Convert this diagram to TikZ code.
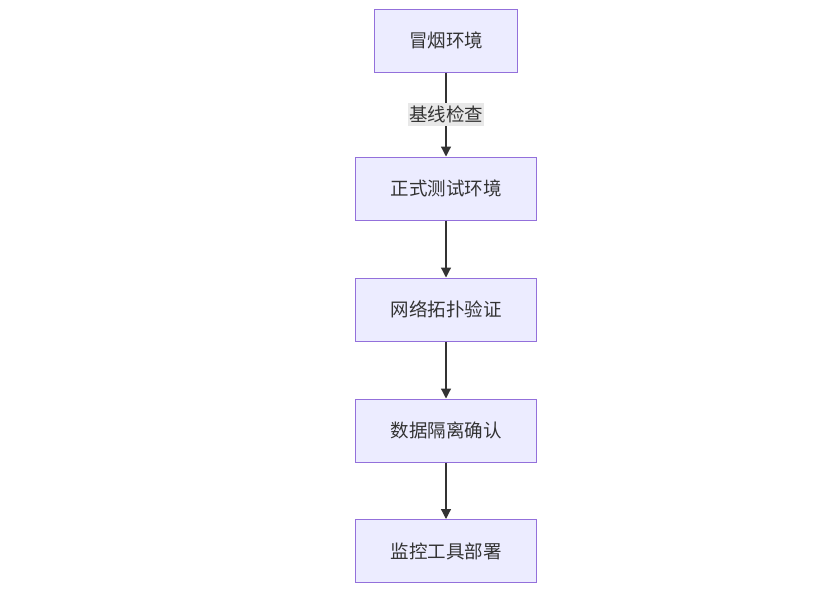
\documentclass[tikz,border=0pt]{standalone}
\usepackage{fontspec}
\newfontfamily\cjk{Noto Sans CJK SC}
\usetikzlibrary{arrows.meta}
\definecolor{boxfill}{HTML}{ECECFF}
\definecolor{boxdraw}{HTML}{9370DB}
\definecolor{ink}{HTML}{333333}
\definecolor{lblbg}{HTML}{E8E8E8}
\tikzset{
  stepbox/.style={draw=boxdraw, fill=boxfill, line width=1pt, inner sep=0pt,
    font=\cjk\fontsize{18.5}{22}\selectfont, text=ink},
  conn/.style={draw=ink, line width=1.2pt, -{Triangle[length=10pt,width=10pt]}},
  lbl/.style={fill=lblbg, font=\cjk\fontsize{18.5}{22}\selectfont, text=ink,
    inner xsep=1pt, inner ysep=3pt}
}
\begin{document}
\begin{tikzpicture}[x=1pt,y=1pt]
\fill[white] (0,0) rectangle (830,-595);
\useasboundingbox (0,0) rectangle (830,-595);
\node[stepbox, minimum width=143pt, minimum height=63pt] (a) at (446,-40.5) {冒烟环境};
\node[stepbox, minimum width=181pt, minimum height=63pt] (b) at (446,-188.5) {正式测试环境};
\node[stepbox, minimum width=181pt, minimum height=63pt] (c) at (446,-309.5) {网络拓扑验证};
\node[stepbox, minimum width=181pt, minimum height=63pt] (d) at (446,-430.5) {数据隔离确认};
\node[stepbox, minimum width=181pt, minimum height=63pt] (e) at (446,-551) {监控工具部署};
\draw[conn] (a) -- node[lbl] {基线检查} (b);
\draw[conn] (b) -- (c);
\draw[conn] (c) -- (d);
\draw[conn] (d) -- (e);
\end{tikzpicture}
\end{document}
